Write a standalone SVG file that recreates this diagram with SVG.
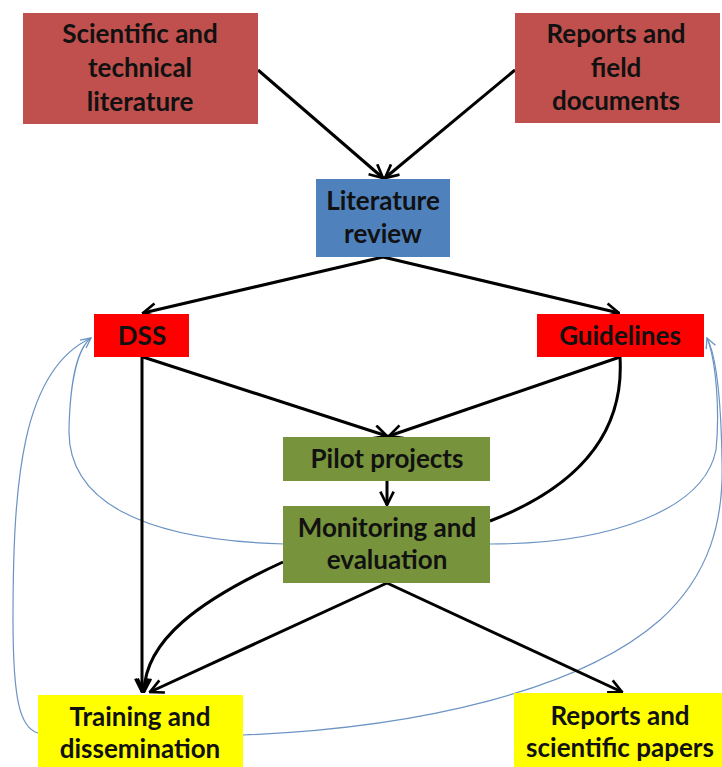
<svg xmlns="http://www.w3.org/2000/svg" width="722" height="767" viewBox="0 0 722 767">
<style>
.lbl{font-family:Lato,"Liberation Sans",Arial,sans-serif;font-weight:bold;font-size:26px;fill:#111;text-anchor:middle}
.src{fill:#c0504d}
.rev{fill:#4f81bd}
.out{fill:#ff0000}
.pilot{fill:#77933c}
.res{fill:#ffff00}
.k{fill:none;stroke:#000;stroke-width:3}
.b{fill:none;stroke:#6b93c4;stroke-width:1.2}
</style>
<defs>
<marker id="ak" viewBox="0 0 12 12" refX="11" refY="6" markerWidth="16" markerHeight="16" markerUnits="userSpaceOnUse" orient="auto">
<path d="M1,1 L11,6 L1,11" fill="none" stroke="#000" stroke-width="2"/>
</marker>
<marker id="ab" viewBox="0 0 12 12" refX="11" refY="6" markerWidth="12" markerHeight="12" markerUnits="userSpaceOnUse" orient="auto">
<path d="M1,1 L11,6 L1,11" fill="none" stroke="#6b93c4" stroke-width="1.3"/>
</marker>
</defs>
<rect width="722" height="767" fill="#fff"/>
<g id="connectors">
<path class="b" d="M284,544 C140,540 68,500 69,430 C70,380 78,348 91,338" marker-end="url(#ab)"/>
<path class="b" d="M38,733 C20,728 13,700 13,620 C13,480 22,370 91,338"/>
<path class="b" d="M490,544 C610,544 704,510 716,450 C720,410 716,360 707,338" marker-end="url(#ab)"/>
<path class="b" d="M243,735 C420,728 580,690 660,620 C710,575 724,520 722,460 C721,400 716,355 707,338"/>
<path class="k" d="M258,70 L383,178" marker-end="url(#ak)"/>
<path class="k" d="M515,70 L385,178" marker-end="url(#ak)"/>
<path class="k" d="M383,257 L143,313" marker-end="url(#ak)"/>
<path class="k" d="M383,257 L619,313" marker-end="url(#ak)"/>
<path class="k" d="M143,357 L387,436" marker-end="url(#ak)"/>
<path class="k" d="M620,357 L389,436" marker-end="url(#ak)"/>
<path class="k" d="M387,481 L387,505" marker-end="url(#ak)"/>
<path class="k" d="M620,357 C625,440 570,490 490,521"/>
<path class="k" d="M142,357 L142,692" marker-end="url(#ak)"/>
<path class="k" d="M283,562 C200,600 145,640 144,692" marker-end="url(#ak)"/>
<path class="k" d="M387,583 L150,692" marker-end="url(#ak)"/>
<path class="k" d="M387,583 L622,692" marker-end="url(#ak)"/>
</g>
<g id="sci">
<rect class="src" x="23" y="13" width="235" height="111"/>
<text class="lbl" x="140" y="43">Scientific and</text>
<text class="lbl" x="140" y="77">technical</text>
<text class="lbl" x="140" y="111">literature</text>
</g>
<g id="reports-field">
<rect class="src" x="515" y="13" width="205" height="110"/>
<text class="lbl" x="616" y="43">Reports and</text>
<text class="lbl" x="616" y="77">field</text>
<text class="lbl" x="616" y="110">documents</text>
</g>
<g id="litreview">
<rect class="rev" x="316" y="179" width="134" height="78"/>
<text class="lbl" x="383" y="210">Literature</text>
<text class="lbl" x="383" y="243">review</text>
</g>
<g id="dss">
<rect class="out" x="94" y="314" width="95" height="43"/>
<text class="lbl" x="142" y="345">DSS</text>
</g>
<g id="guidelines">
<rect class="out" x="537" y="314" width="167" height="43"/>
<text class="lbl" x="620" y="345">Guidelines</text>
</g>
<g id="pilot">
<rect class="pilot" x="283" y="437" width="207" height="44"/>
<text class="lbl" x="387" y="468">Pilot projects</text>
</g>
<g id="monitoring">
<rect class="pilot" x="283" y="506" width="207" height="77"/>
<text class="lbl" x="387" y="537">Monitoring and</text>
<text class="lbl" x="387" y="569">evaluation</text>
</g>
<g id="training">
<rect class="res" x="38" y="695" width="205" height="72"/>
<text class="lbl" x="140" y="726">Training and</text>
<text class="lbl" x="140" y="758">dissemination</text>
</g>
<g id="reports-papers">
<rect class="res" x="514" y="693" width="208" height="74"/>
<text class="lbl" x="620" y="725">Reports and</text>
<text class="lbl" x="620" y="757">scientific papers</text>
</g>
</svg>
